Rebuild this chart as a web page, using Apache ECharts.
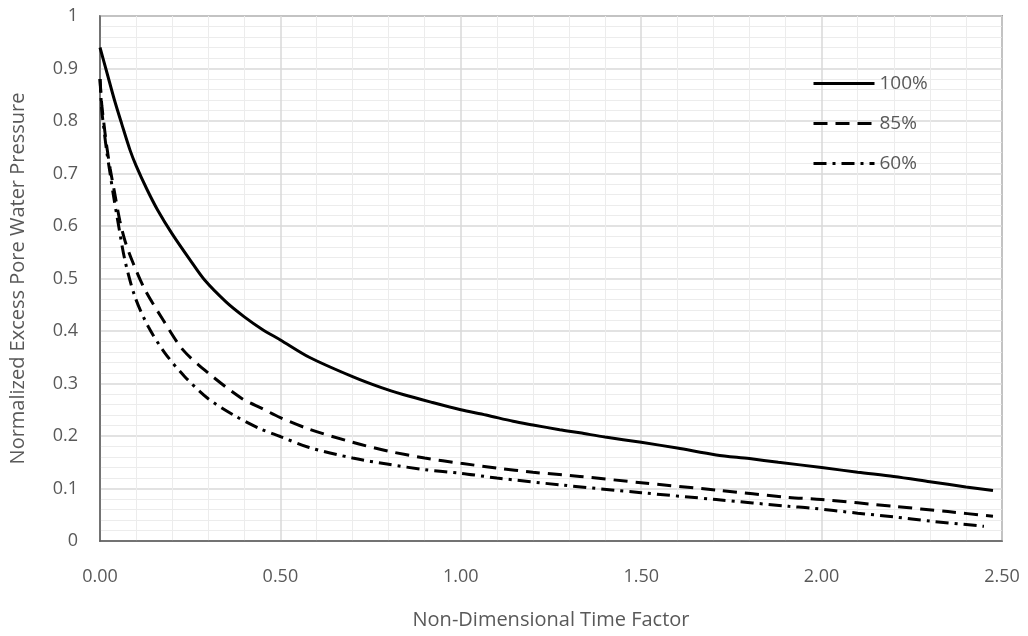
<!DOCTYPE html>
<html>
<head>
<meta charset="utf-8">
<script src="https://cdn.jsdelivr.net/npm/echarts@6/dist/echarts.min.js"></script>
<style>
  html, body { margin: 0; padding: 0; background: #fff; }
  #chart { width: 1028px; height: 636px; }
</style>
</head>
<body>
<div id="chart"></div>
<script>
// Dissipation curves: [time factor, normalized excess pore pressure]
const seriesNames = ['100%', '85%', '60%'];

const curve100 = [
  [0, 0.94], [0.02, 0.89], [0.04, 0.84], [0.06, 0.795], [0.083, 0.745], [0.1, 0.715],
  [0.13, 0.67], [0.16, 0.63], [0.2, 0.585], [0.25, 0.535], [0.29, 0.497], [0.35, 0.455],
  [0.4, 0.427], [0.45, 0.403], [0.5, 0.383], [0.58, 0.35], [0.7, 0.313], [0.78, 0.292],
  [0.84, 0.279], [0.92, 0.264], [1.0, 0.25], [1.07, 0.24], [1.145, 0.228], [1.2, 0.221],
  [1.274, 0.212], [1.33, 0.206], [1.4, 0.198], [1.5, 0.188], [1.6, 0.177], [1.708, 0.164],
  [1.8, 0.157], [1.88, 0.15], [2.0, 0.14], [2.1, 0.131], [2.2, 0.123], [2.3, 0.113],
  [2.4, 0.103], [2.475, 0.096]
];

const curve85 = [
  [0, 0.88], [0.005, 0.83], [0.01, 0.8], [0.018, 0.755], [0.028, 0.71], [0.04, 0.665],
  [0.055, 0.61], [0.07, 0.57], [0.092, 0.529], [0.125, 0.478], [0.175, 0.421], [0.23, 0.364],
  [0.3, 0.32], [0.392, 0.272], [0.45, 0.252], [0.5, 0.235], [0.58, 0.213], [0.7, 0.188],
  [0.8, 0.171], [0.9, 0.158], [1.0, 0.148], [1.1, 0.139], [1.2, 0.131], [1.33, 0.123],
  [1.5, 0.111], [1.708, 0.097], [1.91, 0.083], [2.0, 0.079], [2.2, 0.066], [2.35, 0.056],
  [2.475, 0.047]
];

const curve60 = [
  [0, 0.88], [0.005, 0.82], [0.01, 0.79], [0.018, 0.745], [0.028, 0.7], [0.038, 0.655],
  [0.048, 0.615], [0.069, 0.535], [0.097, 0.465], [0.134, 0.408], [0.18, 0.358], [0.235, 0.313],
  [0.3, 0.271], [0.37, 0.24], [0.443, 0.214], [0.5, 0.199], [0.58, 0.178], [0.7, 0.158],
  [0.8, 0.146], [0.9, 0.136], [1.0, 0.129], [1.1, 0.12], [1.274, 0.107], [1.5, 0.092],
  [1.708, 0.079], [1.91, 0.066], [1.967, 0.063], [2.1, 0.053], [2.2, 0.046], [2.3, 0.038],
  [2.45, 0.028]
];

const xTicks = [0, 0.5, 1.0, 1.5, 2.0, 2.5];
const yTicks = [0, 0.1, 0.2, 0.3, 0.4, 0.5, 0.6, 0.7, 0.8, 0.9, 1];

const FONT = 'Open Sans';
const TEXT = '#595959';

const chart = echarts.init(document.getElementById('chart'), null, { renderer: 'canvas' });

function lineSeries(name, data, type) {
  return {
    name: name,
    type: 'line',
    data: data,
    symbol: 'none',
    smooth: 0.3,
    lineStyle: { color: '#000', width: 3, type: type },
    itemStyle: { color: '#000' },
    animation: false
  };
}

chart.setOption({
  animation: false,
  backgroundColor: '#fff',
  grid: {
    left: 100, right: 26, top: 16, bottom: 95,
    outerBoundsMode: 'none',
    containLabel: false,
    show: true, borderColor: '#595959', borderWidth: 1.5, backgroundColor: 'transparent'
  },
  legend: {
    orient: 'vertical',
    left: 807, top: 69,
    itemWidth: 61, itemHeight: 14, itemGap: 21,
    itemStyle: { opacity: 0 },
    lineStyle: { width: 3 },
    textStyle: { color: TEXT, fontFamily: FONT, fontSize: 19 },
    data: seriesNames
  },
  xAxis: {
    type: 'value',
    min: xTicks[0], max: xTicks[xTicks.length - 1], interval: 0.5,
    name: 'Non-Dimensional Time Factor',
    nameLocation: 'middle', nameGap: 69,
    nameTextStyle: { color: TEXT, fontFamily: FONT, fontSize: 20 },
    axisLine: { show: true, lineStyle: { color: '#595959', width: 1.5 } },
    axisTick: { show: false },
    axisLabel: {
      color: TEXT, fontFamily: FONT, fontSize: 18, margin: 27,
      formatter: v => v.toFixed(2)
    },
    splitLine: { show: true, lineStyle: { color: '#d9d9d9', width: 1.5 } },
    minorTick: { show: false, splitNumber: 5 },
    minorSplitLine: { show: true, lineStyle: { color: '#ececec', width: 1 } }
  },
  yAxis: {
    type: 'value',
    min: yTicks[0], max: yTicks[yTicks.length - 1], interval: 0.1,
    name: 'Normalized Excess Pore Water Pressure',
    nameLocation: 'middle', nameGap: 72, nameRotate: 90,
    nameTextStyle: { color: TEXT, fontFamily: FONT, fontSize: 20 },
    axisLine: { show: true, lineStyle: { color: '#595959', width: 1.5 } },
    axisTick: { show: false },
    axisLabel: {
      color: TEXT, fontFamily: FONT, fontSize: 18, margin: 22,
      formatter: v => String(Math.round(v * 10) / 10)
    },
    splitLine: { show: true, lineStyle: { color: '#d9d9d9', width: 1.5 } },
    minorTick: { show: false, splitNumber: 5 },
    minorSplitLine: { show: true, lineStyle: { color: '#ececec', width: 1 } }
  },
  series: [
    lineSeries(seriesNames[0], curve100, 'solid'),
    lineSeries(seriesNames[1], curve85, [14, 8]),
    lineSeries(seriesNames[2], curve60, [13, 6, 3, 6])
  ]
});
</script>
</body>
</html>
